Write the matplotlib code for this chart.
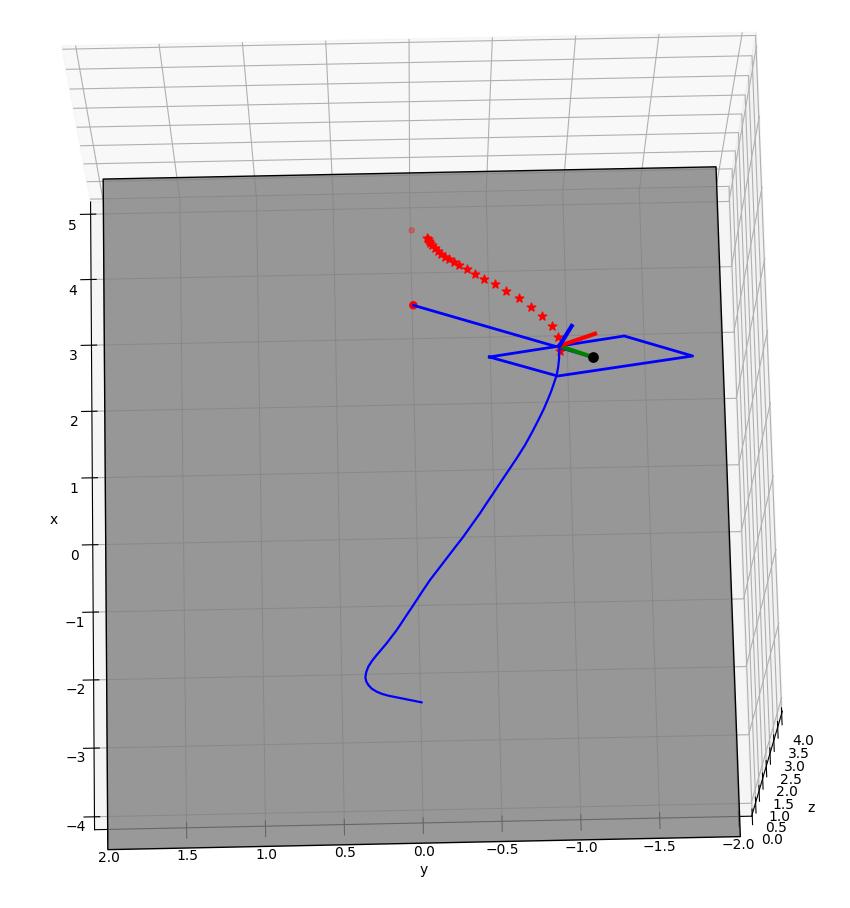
import numpy as np
import matplotlib
matplotlib.use("Agg")
import matplotlib.pyplot as plt
from mpl_toolkits.mplot3d.art3d import Poly3DCollection

plt.rcParams['axes3d.automargin'] = True

# ground plane
ground_x = [-4.5, 5.5, 5.5, -4.5]
ground_y = [2.0, 2.0, -2.0, -2.0]
ground_z = [0.0, 0.0, 0.0, 0.0]

# flown trajectory
traj_x = [-2.459, -2.420, -2.381, -2.360, -2.334, -2.298, -2.253, -2.207, -2.155, -2.087, -2.015,
          -1.940, -1.862, -1.786, -1.710, -1.624, -1.538, -1.437, -1.337, -1.237, -1.137, -1.000,
          -0.864, -0.716, -0.568, -0.420, -0.271, -0.110, 0.049, 0.184, 0.318, 0.491, 0.664,
          0.825, 0.986, 1.162, 1.333, 1.486, 1.632, 1.720, 1.804, 1.932, 2.035, 2.135, 2.230, 2.323]
traj_y = [-0.006, 0.099, 0.205, 0.245, 0.278, 0.309, 0.330, 0.343, 0.348, 0.342, 0.328,
          0.304, 0.273, 0.241, 0.209, 0.176, 0.143, 0.110, 0.078, 0.045, 0.013, -0.030,
          -0.074, -0.128, -0.182, -0.236, -0.291, -0.345, -0.399, -0.442, -0.486, -0.540, -0.595,
          -0.646, -0.694, -0.740, -0.782, -0.818, -0.848, -0.866, -0.881, -0.903, -0.913, -0.919, -0.922, -0.923]
traj_z = [0.00, 0.04, 0.08, 0.10, 0.12, 0.145, 0.17, 0.19, 0.21, 0.23, 0.25,
          0.27, 0.29, 0.31, 0.33, 0.355, 0.38, 0.40, 0.42, 0.44, 0.46, 0.48,
          0.50, 0.52, 0.54, 0.56, 0.58, 0.60, 0.62, 0.645, 0.67, 0.69, 0.71,
          0.73, 0.75, 0.77, 0.79, 0.81, 0.83, 0.855, 0.88, 0.92, 0.94, 0.96, 0.98, 1.00]

# predicted horizon
star_x = [2.253, 2.452, 2.617, 2.768, 2.905, 3.043, 3.151, 3.259, 3.336, 3.419, 3.491, 3.558,
          3.604, 3.645, 3.686, 3.732, 3.773, 3.819, 3.860, 3.895, 3.926, 3.951, 3.971]
star_y = [-0.926, -0.918, -0.878, -0.816, -0.748, -0.674, -0.596, -0.524, -0.454, -0.398, -0.348, -0.302,
          -0.269, -0.239, -0.212, -0.187, -0.166, -0.148, -0.133, -0.121, -0.111, -0.104, -0.098]
star_z = [1.0] * 23

# window frame
gate_x = [2.181, 2.452, 2.135, 1.879, 2.181]
gate_y = [-0.478, -1.336, -1.765, -0.907, -0.478]
gate_z = [1.0] * 5

# goal points
goal_x = [2.971, 4.611]
goal_y = [-0.004, -0.008]
goal_z = [1.0, 0.0]
ball = [2.145, -1.136, 1.0]

# body axes of the vehicle, tips
tip_red = [2.494, -1.151, 1.0]
tip_blue = [2.616, -1.005, 1.0]

fig = plt.figure(figsize=(8.5, 9.08), dpi=100)
ax = fig.add_subplot(111, projection='3d', computed_zorder=False)
ax.set_position([-0.1444, -0.0802, 1.235, 1.156])

verts = [list(zip(ground_x, ground_y, ground_z))]
ax.add_collection3d(Poly3DCollection(verts, facecolor='gray', edgecolor='k', alpha=0.8, zorder=1))

ax.scatter(star_x, star_y, star_z, marker='*', c='r', s=40, depthshade=False, zorder=2)
ax.scatter(goal_x, goal_y, goal_z, c='r', s=[26, 14], zorder=2)
ax.plot(traj_x, traj_y, traj_z, color='b', lw=1.6, zorder=3)
ax.plot(gate_x, gate_y, gate_z, color='b', lw=2, zorder=3)
ax.plot([goal_x[0], ball[0]], [goal_y[0], ball[1]], [goal_z[0], ball[2]], color='b', lw=2, zorder=3)

cx, cy, cz = traj_x[-1], traj_y[-1], traj_z[-1]
ax.plot([cx, ball[0]], [cy, ball[1]], [cz, ball[2]], color='g', lw=3, zorder=4)
ax.plot([cx, tip_red[0]], [cy, tip_red[1]], [cz, tip_red[2]], color='r', lw=3, zorder=4)
ax.plot([cx, tip_blue[0]], [cy, tip_blue[1]], [cz, tip_blue[2]], color='b', lw=3, zorder=4)
ax.scatter([ball[0]], [ball[1]], [ball[2]], c='k', s=45, zorder=5)

ax.set_xlim(-4, 5)
ax.set_ylim(-2, 2)
ax.set_zlim(0, 4)
ax.set_xlabel('x')
ax.set_ylabel('y')
ax.set_zlabel('z')
ax.view_init(elev=75, azim=178.8)

fig.savefig('out.png', dpi=100)
